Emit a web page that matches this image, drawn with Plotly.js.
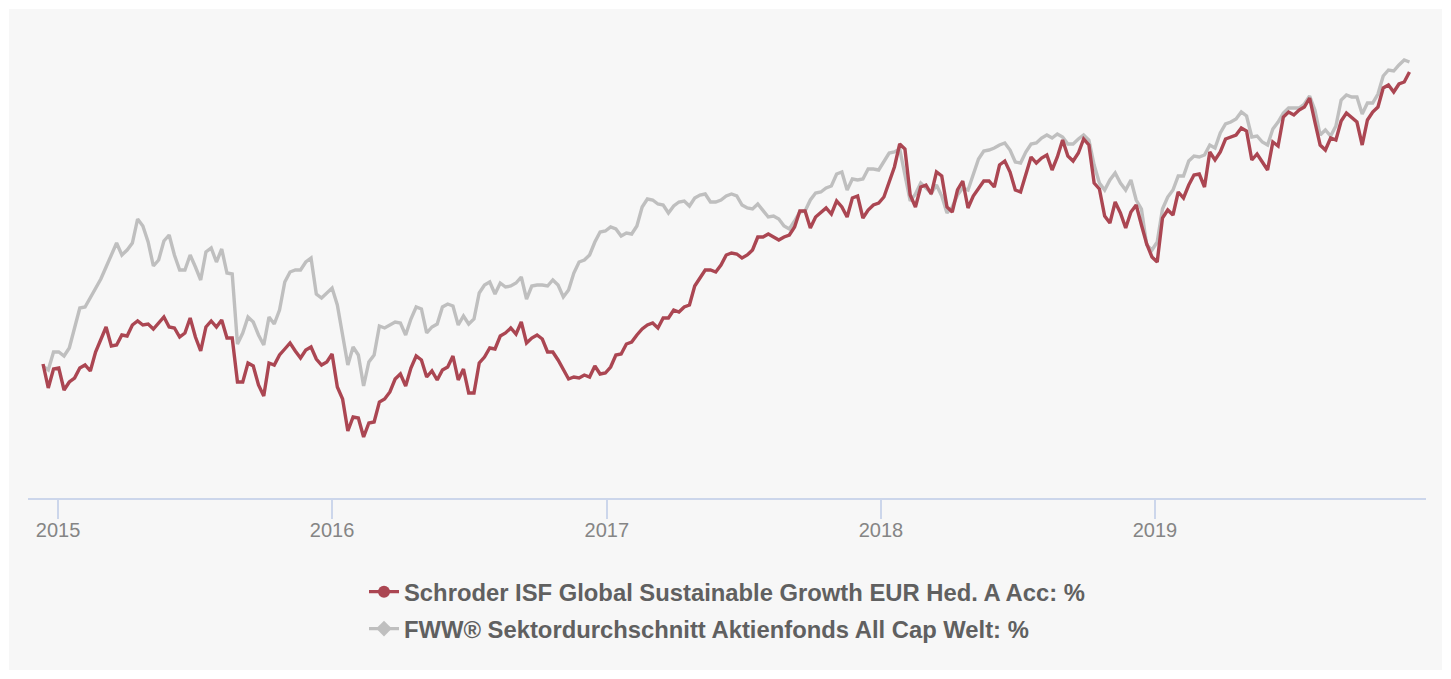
<!DOCTYPE html>
<html>
<head>
<meta charset="utf-8">
<script src="https://cdn.plot.ly/plotly-3.0.1.min.js"></script>
<style>
  html, body { margin: 0; padding: 0; background: #ffffff; }
  #chart { position: absolute; left: 9px; top: 9px; width: 1433px; height: 661px; }
</style>
</head>
<body>
<div id="chart"></div>
<script>
// ---- data (weekly; values in % performance) ----
const startDate = '2014-12-12';
const fundName = 'Schroder ISF Global Sustainable Growth EUR Hed. A Acc: %';
const sectorName = 'FWW® Sektordurchschnitt Aktienfonds All Cap Welt: %';
const tickYears = ['2015', '2016', '2017', '2018', '2019'];

const fundValues = [
  0.2, -4.6, -0.8, -0.6, -5.0, -3.4, -2.6, -0.6, 0.0, -1.2,
  2.6, 5.2, 7.6, 3.8, 4.0, 6.0, 5.8, 8.0, 8.8, 8.0,
  8.2, 7.2, 8.4, 9.6, 7.6, 7.4, 5.6, 6.4, 9.4, 5.6,
  2.8, 7.6, 8.8, 7.6, 9.0, 5.4, 5.4, -3.4, -3.4, 0.4,
  -0.2, -4.0, -6.2, 0.4, 0.0, 2.0, 3.2, 4.4, 2.8, 1.4,
  3.0, 3.6, 1.2, 0.0, 0.6, 2.2, -4.4, -6.8, -13.2, -10.4,
  -10.6, -14.4, -11.6, -11.4, -7.4, -6.8, -5.4, -2.8, -1.8, -4.2,
  -0.6, 1.8, 1.0, -2.4, -1.2, -3.0, -1.0, -0.4, 1.8, -3.0,
  -0.8, -5.6, -5.6, 0.4, 1.6, 3.4, 3.2, 5.8, 6.4, 7.4,
  6.2, 8.6, 4.4, 5.4, 6.0, 5.2, 2.6, 2.6, 1.0, -0.8,
  -2.8, -2.4, -2.6, -2.0, -2.4, -0.2, -1.8, -1.6, -0.4, 2.0,
  2.2, 4.2, 4.6, 6.0, 7.2, 8.0, 8.4, 7.4, 9.4, 9.4,
  11.0, 10.6, 11.6, 12.0, 15.8, 17.4, 19.0, 19.0, 18.6, 20.0,
  22.0, 22.4, 22.2, 21.4, 22.0, 23.0, 25.6, 25.6, 26.2, 25.6,
  25.0, 25.6, 26.0, 27.6, 30.8, 30.8, 27.4, 29.6, 30.6, 31.4,
  30.2, 32.8, 31.6, 29.6, 33.4, 33.8, 29.4, 31.0, 32.0, 32.4,
  33.6, 36.8, 39.6, 44.2, 43.2, 34.0, 31.6, 35.6, 36.0, 34.2,
  38.6, 37.8, 31.6, 30.6, 35.0, 36.8, 31.4, 33.8, 35.2, 36.8,
  36.8, 35.6, 40.0, 40.8, 38.6, 35.0, 34.6, 38.4, 41.6, 40.4,
  41.4, 42.0, 39.0, 41.6, 45.0, 41.8, 40.8, 42.4, 45.2, 44.0,
  36.4, 35.2, 29.8, 28.4, 32.6, 30.4, 27.4, 30.6, 32.0, 28.0,
  24.2, 21.6, 20.6, 29.4, 31.0, 30.0, 34.6, 33.4, 36.0, 38.0,
  38.2, 35.6, 42.6, 41.0, 42.6, 45.2, 45.6, 46.0, 47.4, 46.8,
  41.0, 42.2, 40.6, 39.0, 44.6, 43.8, 49.6, 50.6, 50.0, 51.0,
  51.6, 53.4, 48.6, 44.0, 43.0, 45.4, 45.0, 48.8, 50.4, 49.6,
  48.6, 44.0, 49.0, 50.6, 51.6, 55.4, 56.0, 54.6, 56.2, 56.6,
  58.6
];

const sectorValues = [
  -0.2, -1.0, 2.6, 2.6, 1.8, 3.4, 7.4, 11.4, 11.6, 13.4,
  15.4, 17.2, 19.6, 22.0, 24.4, 22.0, 23.0, 24.4, 29.2, 27.8,
  24.6, 19.8, 21.0, 24.8, 26.0, 22.0, 19.0, 19.0, 22.0, 19.6,
  17.0, 22.6, 23.4, 20.6, 23.2, 18.4, 18.2, 4.2, 6.4, 9.6,
  8.6, 6.0, 4.0, 9.6, 8.2, 11.0, 16.6, 18.6, 19.0, 19.0,
  20.6, 21.4, 14.2, 13.4, 14.4, 15.4, 12.0, 6.0, 0.0, 3.6,
  2.0, -4.2, 0.6, 2.0, 7.8, 7.4, 8.0, 8.6, 8.4, 6.0,
  9.2, 11.6, 11.2, 6.4, 7.6, 8.2, 11.6, 12.2, 11.8, 8.0,
  9.8, 8.2, 9.2, 14.4, 16.0, 16.6, 14.2, 16.4, 15.6, 15.8,
  16.4, 17.6, 13.2, 15.8, 16.0, 16.0, 15.8, 17.0, 16.0, 13.6,
  15.0, 18.4, 20.6, 21.0, 22.0, 24.6, 26.6, 26.8, 27.6, 27.2,
  25.8, 26.4, 26.2, 27.8, 31.6, 33.2, 33.0, 32.2, 32.0, 30.4,
  31.8, 32.6, 32.8, 31.8, 33.4, 34.0, 34.2, 32.6, 32.6, 33.0,
  33.8, 34.2, 33.8, 32.0, 31.4, 31.2, 32.2, 30.8, 29.6, 29.8,
  29.2, 27.8, 27.2, 28.8, 30.6, 30.8, 33.0, 34.4, 34.6, 35.4,
  35.8, 38.2, 38.6, 35.0, 37.2, 37.0, 37.2, 39.2, 39.2, 39.0,
  40.6, 42.4, 42.6, 43.2, 38.0, 32.8, 34.2, 36.4, 35.4, 34.4,
  36.0, 33.8, 30.4, 31.6, 34.0, 35.4, 35.0, 38.0, 41.2, 42.8,
  43.0, 43.4, 44.0, 44.4, 43.0, 40.6, 40.4, 42.6, 44.2, 44.4,
  45.4, 46.0, 45.4, 46.2, 45.6, 44.2, 44.2, 45.2, 46.0, 45.0,
  40.0, 36.4, 35.0, 37.0, 38.4, 36.4, 35.0, 37.0, 33.0, 31.2,
  24.0, 23.0, 24.6, 31.2, 33.6, 35.0, 37.8, 37.8, 40.8, 41.8,
  41.6, 42.0, 44.0, 43.4, 46.4, 48.2, 48.6, 49.2, 50.6, 49.8,
  45.6, 45.8, 44.6, 44.0, 47.2, 48.6, 50.4, 51.4, 51.4, 51.4,
  52.2, 53.8, 51.0, 46.0, 47.0, 45.8, 47.8, 53.0, 54.0, 53.6,
  53.6, 50.2, 52.4, 52.4, 54.2, 57.8, 59.0, 58.8, 60.0, 61.0,
  60.6
];

// ---- build weekly dates ----
function weekDates(start, n) {
  const d0 = Date.parse(start + 'T00:00:00Z');
  const out = [];
  for (let i = 0; i < n; i++) out.push(new Date(d0 + i * 7 * 86400000).toISOString().slice(0, 10));
  return out;
}
const dates = weekDates(startDate, fundValues.length);

const fundColor = '#ab4652';
const sectorColor = '#bfbfbf';
const fontFamily = 'Liberation Sans, Arial, Helvetica, sans-serif';

const data = [
  { x: dates, y: sectorValues, type: 'scatter', mode: 'lines', name: sectorName,
    line: { color: sectorColor, width: 3.4 }, showlegend: false, hoverinfo: 'skip' },
  { x: dates, y: fundValues, type: 'scatter', mode: 'lines', name: fundName,
    line: { color: fundColor, width: 3.4 }, showlegend: false, hoverinfo: 'skip' },
  { x: [null], y: [null], type: 'scatter', mode: 'lines+markers', name: fundName, legendgroup: 'a',
    line: { color: fundColor, width: 3.4 }, marker: { color: fundColor, size: 12, symbol: 'circle' } },
  { x: [null], y: [null], type: 'scatter', mode: 'lines+markers', name: sectorName, legendgroup: 'b',
    line: { color: sectorColor, width: 3.4 }, marker: { color: sectorColor, size: 12, symbol: 'diamond' } }
];

const layout = {
  width: 1433, height: 661,
  margin: { l: 19, r: 16, t: 11, b: 172 },
  paper_bgcolor: '#f7f7f7', plot_bgcolor: '#f7f7f7',
  showlegend: true,
  hovermode: false,
  xaxis: {
    type: 'date',
    range: ['2014-11-22', '2019-12-28'],
    tickvals: tickYears.map(y => y + '-01-01'),
    ticktext: tickYears,
    ticks: 'outside', ticklen: 19, tickwidth: 2, tickcolor: '#ccd6eb',
    ticklabelstandoff: -6,
    showline: true, linecolor: '#ccd6eb', linewidth: 2,
    showgrid: false, zeroline: false,
    tickfont: { family: fontFamily, size: 20, color: '#858585' }
  },
  yaxis: { range: [-26.6, 69], visible: false, fixedrange: true },
  legend: {
    orientation: 'v', x: 0.5, xanchor: 'center', y: -0.15, yanchor: 'top',
    font: { family: fontFamily, size: 23.8, color: '#606060', weight: 'bold' },
    tracegroupgap: 3, bgcolor: 'rgba(0,0,0,0)'
  }
};

Plotly.newPlot('chart', data, layout, { staticPlot: true, displayModeBar: false });
</script>
</body>
</html>
